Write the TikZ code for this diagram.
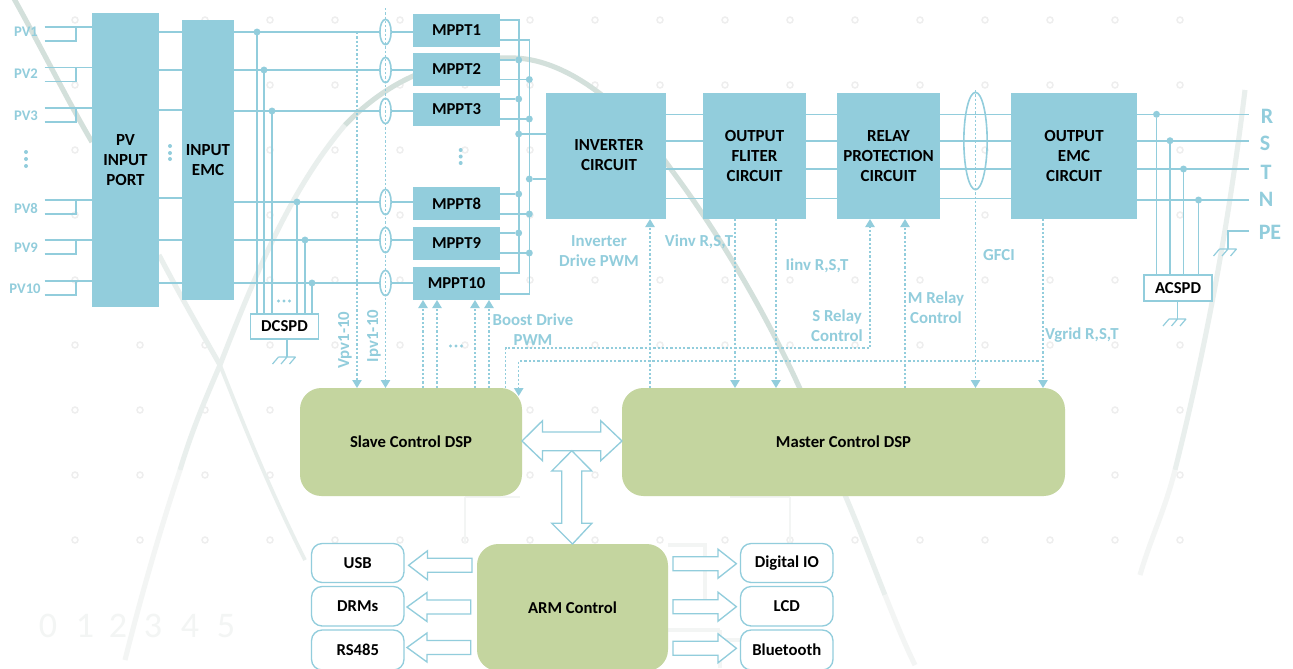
\documentclass[tikz,border=0pt]{standalone}
\usepackage{fontspec}
\setmainfont{Carlito}
\usetikzlibrary{arrows.meta,calc,shapes.geometric}
\definecolor{blu}{HTML}{92CDDC}
\definecolor{grn}{HTML}{C4D59F}
\definecolor{wm}{HTML}{E9EFED}
\definecolor{wmb}{HTML}{D3E0DB}
\definecolor{wml}{HTML}{F3F5F4}
\definecolor{gridc}{HTML}{EEEEEE}
\tikzset{
  bluebox/.style={fill=blu,inner sep=0pt,outer sep=0pt,align=center,font=\fontsize{12.7}{15}\selectfont\bfseries,text=black},
  mppt/.style={bluebox,font=\fontsize{12.5}{15}\selectfont\bfseries},
  greenbox/.style={fill=grn,rounded corners=16pt,inner sep=0pt,outer sep=0pt,align=center,font=\fontsize{12.5}{14}\selectfont\bfseries,text=black},
  whitebox/.style={draw=blu,line width=1pt,fill=white,inner sep=0pt,outer sep=0pt,align=center,font=\fontsize{12.5}{14}\selectfont\bfseries,text=black},
  roundwhite/.style={whitebox,rounded corners=8pt},
  wire/.style={draw=blu,line width=1.2pt},
  thinwire/.style={draw=blu,line width=0.9pt},
  sig/.style={draw=blu,line width=1.1pt,dash pattern=on 1.7pt off 1.5pt},
  sigar/.style={sig,-{Triangle[width=7pt,length=6pt,sep=0pt]}},
  lbl/.style={text=blu,inner sep=0pt,align=center,font=\fontsize{12.6}{15}\selectfont\bfseries},
  lblbig/.style={text=blu,inner sep=0pt,font=\fontsize{16.5}{18}\selectfont\bfseries},
  ring/.style={draw=blu,line width=1.2pt,fill=none,ellipse},
  junc/.style={fill=blu,circle,inner sep=0pt,minimum size=5.2pt,outer sep=0pt},
  blockar/.style={draw=blu,line width=1pt,fill=white,line join=miter},
  wmark/.style={line width=3.8pt},
}
% box by corners: name, x0,y0,x1,y1, style, text
\newcommand{\bx}[7]{\node[#6,minimum width={(#4-#2)*0.75pt},minimum height={(#5-#3)*0.75pt}] (#1) at ({(#2+#4)/2},{(#3+#5)/2}) {#7};}
% ground symbol, centre x, y
\newcommand{\gndsym}[2]{\draw[thinwire] ({#1-8.5},#2) -- ({#1+8.5},#2)
  ({#1-8.5},#2) -- ({#1-14.5},{#2+7}) ({#1},#2) -- ({#1-6},{#2+7}) ({#1+8.5},#2) -- ({#1+2.5},{#2+7});}
% left block arrow: tip x, head-base x, tail x, centre y
\newcommand{\larrow}[4]{\draw[blockar] (#1,#4) -- (#2,{#4-14.5}) -- (#2,{#4-7}) -- (#3,{#4-7}) -- (#3,{#4+7}) -- (#2,{#4+7}) -- (#2,{#4+14.5}) -- cycle;}
\begin{document}
\begin{tikzpicture}[x=0.75pt,y=-0.75pt]
\useasboundingbox (0,0) rectangle (1293,668);
\clip (0,0) rectangle (1293,668);
\fill[white] (0,0) rectangle (1293,668);
% ---- watermark ----
\foreach \i in {0,...,17}{\foreach \j in {0,...,8}{
  \draw[gridc,line width=1.1pt] ({75+65*\i},{20+65*\j}) circle (3);}}
\draw[wmb,wmark] (12,-5) .. controls (40,45) and (70,105) .. (92,142);
\draw[wm,wmark] (159,255) .. controls (180,295) and (200,330) .. (220,365);
\draw[wm,line width=2.8pt] (220,365) .. controls (240,415) and (265,480) .. (305,560);
\draw[wml,wmark] (125,660) .. controls (140,600) and (160,530) .. (180,470);
\draw[wm,wmark] (180,470) .. controls (192,430) and (205,400) .. (220,365);
\draw[wm,wmark] (220,365) .. controls (255,275) and (290,190) .. (345,125);
\draw[wmb,wmark] (345,125) .. controls (400,68) and (460,56) .. (515,58);
\draw[wmb,wmark] (515,58) .. controls (570,60) and (630,110) .. (673,172);
\draw[wmb,wmark] (673,172) .. controls (720,235) and (770,320) .. (805,400);
\draw[wm,wmark] (845,495) .. controls (860,530) and (875,570) .. (885,595);
\draw[wml,wmark] (885,595) .. controls (895,620) and (905,645) .. (915,665);
\draw[wm,wmark] (1245,90) .. controls (1228,230) and (1205,350) .. (1175,470);
\draw[wml,wmark] (1175,470) .. controls (1165,510) and (1150,540) .. (1140,575);
\draw[wml,line width=2pt] (465,497) -- (465,544) (465,497) -- (520,497)
  (790,497) -- (790,544) (730,497) -- (790,497);
\draw[wml,line width=3pt] (668,545) -- (705,545) -- (705,600) (668,630) -- (720,630) (720,668) -- (720,630) (760,668) -- (760,640) -- (720,640);
\foreach \d/\x in {0/48,1/85,2/118,3/153,4/190,5/226}{
  \node[text=wml,inner sep=0pt,font=\fontsize{27}{27}\selectfont] (wm\d) at (\x,626) {\d};}
% ---- boxes ----
\bx{port}{92}{13}{159}{307}{bluebox}{PV\\INPUT\\PORT}
\bx{iemc}{182}{20}{234}{300}{bluebox}{INPUT\\EMC}
\bx{m1}{413}{14}{500}{46.5}{mppt}{MPPT1}
\bx{m2}{413}{53}{500}{86}{mppt}{MPPT2}
\bx{m3}{413}{93}{500}{126}{mppt}{MPPT3}
\bx{m8}{413}{187}{500}{220}{mppt}{MPPT8}
\bx{m9}{413}{227}{500}{260}{mppt}{MPPT9}
\bx{m10}{413}{267}{500}{300}{mppt}{MPPT10}
\bx{inv}{546}{93}{666}{219}{bluebox}{}
\node[bluebox,fill=none] (invt) at (609,155) {INVERTER\\CIRCUIT};
\bx{filt}{703}{93}{806}{219}{bluebox}{OUTPUT\\FLITER\\CIRCUIT}
\bx{rel}{837}{93}{940}{219}{bluebox}{RELAY\\PROTECTION\\CIRCUIT}
\bx{oemc}{1011}{93}{1137}{219}{bluebox}{OUTPUT\\EMC\\CIRCUIT}
\bx{slave}{300}{388}{522}{496}{greenbox}{Slave Control DSP}
\bx{master}{622}{388}{1065}{496}{greenbox}{Master Control DSP}
\bx{arm}{477}{544}{668}{671}{greenbox}{ARM Control}
\bx{dcspd}{250.5}{314}{318.5}{339}{whitebox}{DCSPD}
\bx{acspd}{1144}{275}{1212}{301}{whitebox}{ACSPD}
\bx{usb}{311.5}{543.5}{404}{582.5}{roundwhite}{USB}
\bx{drm}{311.5}{586.5}{404}{626}{roundwhite}{DRMs}
\bx{rs}{311.5}{630}{404}{670}{roundwhite}{RS485}
\bx{dio}{740.5}{543.5}{833}{582.5}{roundwhite}{Digital IO}
\bx{lcd}{740.5}{586.5}{833}{626}{roundwhite}{LCD}
\bx{bt}{740.5}{630}{833}{670}{roundwhite}{Bluetooth}
% ---- PV inputs ----
\foreach \t/\y/\lx/\ly in {PV1/27/26/32,PV2/67.5/26/74,PV3/108/26/116,PV8/200/26/208,PV9/240/26/248,PV10/281/25/289}{
  \coordinate (\t a) at (44.5,\y);
  \coordinate (\t b) at (44.5,\y+14);
  \coordinate (\t c) at (76,\y+14);
  \coordinate (\t d) at (76,\y);
  \draw[wire] (\t a) -- (\t a -| port.west);
  \draw[wire] (\t b) -- (\t c) -- (\t d);
  \node[lbl,font=\fontsize{11}{14}\selectfont\bfseries] (lab\t) at (\lx,\ly) {\t};
}
\foreach \y in {152,159,166}{\fill[blu] (26,\y) circle (2);}
\foreach \y in {146,153,159}{\fill[blu] (170,\y) circle (2);}
\foreach \y in {150,156.5,163}{\fill[blu] (460.7,\y) circle (2);}
% port to emc
\foreach \y in {32,70,110,198,240,283}{\draw[wire] (port.east |- 0,\y) -- (iemc.west |- 0,\y);}
% ---- emc to mppt ----
\foreach \y/\m/\e in {32/m1/a,70/m2/b,111/m3/c,202/m8/d,240/m9/e,283/m10/f}{
  \node[ring,minimum width=8.4pt,minimum height=19pt,inner sep=0pt] (ring\e) at (385.5,\y) {};
  \draw[wire] (iemc.east |- 0,\y) -- (ring\e.west);
  \draw[wire] (ring\e.east) -- (\m.west |- 0,\y);
}
\foreach \x/\y/\n in {257/32/a,264/70/b,272/111/c,297/202/d,305/240/e,312/283/f}{
  \node[junc] (jd\n) at (\x,\y) {};
  \draw[wire] (jd\n) -- (jd\n |- dcspd.north);
}
\foreach \x in {278.5,284,289.5}{\fill[blu] (\x,301) circle (1.6);}
\coordinate (gdc) at (287,357);
\draw[thinwire] (gdc |- dcspd.south) -- (gdc);
\gndsym{287}{357}
% sensing
\coordinate (vtop) at (357,32);
\draw[sigar] (vtop) -- (vtop |- slave.north);
\coordinate (itop) at (385.5,8);
\draw[sigar] (itop) -- (itop |- slave.north);
\node[lbl,rotate=90] (vpvl) at (345,340) {Vpv1-10};
\node[lbl,rotate=90] (ipvl) at (374,336) {Ipv1-10};
% ---- mppt right side bus ----
\coordinate (busa) at (518.7,20);
\coordinate (busb) at (529.3,40);
\coordinate (busaend) at (518.7,273);
\coordinate (busbend) at (529.3,294);
\draw[wire] (m1.east |- busa) -- (busa) -- (busaend) -- (m10.east |- busaend);
\draw[wire] (m1.east |- busb) -- (busb) -- (busbend) -- (m10.east |- busbend);
\foreach \y/\m/\e in {60/m2/a,99/m3/b,194/m8/c,233/m9/d}{
  \node[junc] (ja\e) at (518.7,\y) {};
  \draw[wire] (\m.east |- ja\e) -- (ja\e);}
\foreach \y/\m/\e in {79.5/m2/a,119/m3/b,214/m8/c,253/m9/d}{
  \node[junc] (jb\e) at (529.3,\y) {};
  \draw[wire] (\m.east |- jb\e) -- (jb\e);}
\node[junc] (jia) at (518.7,134) {};
\node[junc] (jib) at (529.3,179) {};
\draw[wire] (jia) -- (jia -| inv.west);
\draw[wire] (jib) -- (jib -| inv.west);
% ---- three-phase bus ----
\foreach \y in {114.3,140.7,169,198.3}{
  \draw[wire] (inv.east |- 0,\y) -- (filt.west |- 0,\y);
  \draw[wire] (filt.east |- 0,\y) -- (rel.west |- 0,\y);
  \draw[wire] (rel.east |- 0,\y) -- (oemc.west |- 0,\y);
}
\node[ring,minimum width=17.5pt,minimum height=73pt,inner sep=0pt] (gring) at (975.5,141) {};
\coordinate (gtop) at (975.5,90);
\draw[sigar] (gtop) -- (gtop |- master.north);
% output
\foreach \y/\x/\n/\t/\lx/\ly in {114.3/1156.5/a/R/1267/116,140.7/1170/b/S/1265/143,169/1183.5/c/T/1266/172,200/1198.5/d/N/1266/199}{
  \coordinate (end\n) at (1249,\y);
  \draw[wire] (oemc.east |- end\n) -- (end\n);
  \node[junc] (jo\n) at (\x,\y) {};
  \draw[wire] (jo\n) -- (jo\n |- acspd.north);
  \node[lblbig] (lab\t) at (\lx,\ly) {\t};
}
\node[lblbig] (labPE) at (1270,232) {PE};
\coordinate (pea) at (1249,231);
\coordinate (peb) at (1228,231);
\coordinate (pec) at (1228,249);
\draw[thinwire] (pea) -- (peb) -- (pec);
\gndsym{1228}{249}
\coordinate (gac) at (1177.5,319);
\draw[thinwire] (gac |- acspd.south) -- (gac);
\gndsym{1177.5}{319}
% ---- dotted signals ----
\foreach \x in {423,437,475,489}{
  \coordinate (bd) at (\x,388);
  \draw[sigar] (bd) -- (bd |- m10.south);}
\foreach \x in {450.5,456,461.5}{\fill[blu] (\x,346) circle (1.6);}
\node[lbl] (boostl) at (533,330) {Boost Drive\\PWM};
\coordinate (pwm) at (650,388);
\draw[sigar] (pwm) -- (pwm |- inv.south);
\node[lbl] (invl) at (599,251) {Inverter\\Drive PWM};
\coordinate (vi) at (735,219);
\draw[sigar] (vi) -- (vi |- master.north);
\node[lbl] (vinvl) at (699,242) {Vinv R,S,T};
\coordinate (ii) at (776,219);
\draw[sigar] (ii) -- (ii |- master.north);
\node[lbl] (iinvl) at (817,266) {Iinv R,S,T};
\coordinate (sa) at (505.5,388);
\coordinate (sb) at (505.5,348);
\coordinate (sc) at (870,348);
\draw[sigar] (sa) -- (sb) -- (sc) -- (sc |- rel.south);
\node[lbl] (srl) at (837,326) {S Relay\\Control};
\coordinate (mr) at (905,388);
\draw[sigar] (mr) -- (mr |- rel.south);
\node[lbl] (mrl) at (936,308) {M Relay\\Control};
\node[lbl] (gfl) at (999,255) {GFCI};
\coordinate (va) at (1043,219);
\coordinate (vb) at (1043,361);
\coordinate (vc) at (518.7,361);
\coordinate (vd) at (518.7,396);
\draw[sigar] (vb) -- (vc) -- (vd);
\draw[sigar] (va) -- (va |- master.north);
\node[lbl] (vgl) at (1082,335) {Vgrid R,S,T};
% ---- block arrows ----
\draw[blockar] (slave.east |- 0,441) -- (542.5,420.7) -- (542.5,432) -- (600.7,432) -- (600.7,420.7)
  -- (master.west |- 0,441) -- (600.7,460.7) -- (600.7,450.7) -- (542.5,450.7) -- (542.5,460.7) -- cycle;
\draw[blockar] (571.8,450.7) -- (591.8,471) -- (581.8,471) -- (581.8,523.3) -- (591.8,523.3)
  -- (arm.north) -- (551.8,523.3) -- (561.8,523.3) -- (561.8,471) -- (551.8,471) -- cycle;
\larrow{408.6}{427.5}{472}{565.3}
\larrow{407}{427}{470.7}{607}
\larrow{407}{427}{470.7}{647.5}
\larrow{736.4}{718}{673}{563.7}
\larrow{736.4}{718}{673}{606.7}
\larrow{736.4}{718}{673}{648.3}
\end{tikzpicture}
\end{document}
